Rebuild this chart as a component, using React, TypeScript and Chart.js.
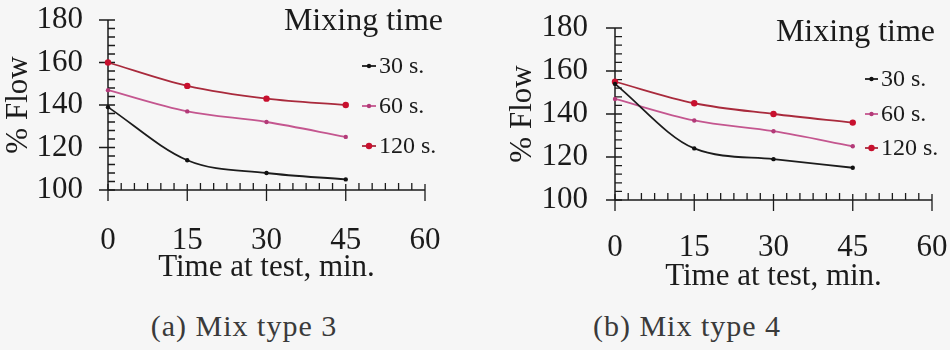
import React, { useEffect, useRef } from "react";
import { Chart, registerables } from "chart.js";

Chart.register(...registerables);

// ---- data ----
const timeAtTest = [0, 15, 30, 45];
const mixingTimeLabels = ["30 s.", "60 s.", "120 s."];
const mix3Flow30s = [139, 114, 108, 105];
const mix3Flow60s = [147, 137, 132, 125];
const mix3Flow120s = [160, 149, 143, 140];
const mix4Flow30s = [154, 124, 119, 115];
const mix4Flow60s = [147, 137, 132, 125];
const mix4Flow120s = [155, 145, 140, 136];
const xTickValues = [0, 15, 30, 45, 60];
const yTickValues = [100, 120, 140, 160, 180];
const xMinorStep = 2.5;
const yMinorStep = 4;
const xAxisTitle = "Time at test, min.";
const yAxisTitle = "% Flow";
const legendTitle = "Mixing time";
const captions = ["(a) Mix type 3", "(b) Mix type 4"];

// ---- styles ----
const FONT = '"Liberation Serif", "Times New Roman", Times, serif';
const INK = "#1b1b1b";
const seriesStyles = [
  { line: "#1c1c1c", point: "#111111", radius: 2.2 },
  { line: "#c4568f", point: "#b33a78", radius: 2.2 },
  { line: "#a92a3c", point: "#c8102e", radius: 3.2 },
];

type Layout = {
  left: number;
  top: number;
  padLeft: number;
  padRight: number;
  padTop: number;
  padBottom: number;
  yWidth: number;
  xHeight: number;
  xTickPad: number;
  yTickPad: number;
  legTitleRight: number;
  legTitleY: number;
  legLineX0: number;
  legLineX1: number;
  legTextX: number;
  legItemYs: number[];
};

const layoutA: Layout = {
  left: 0,
  top: 0,
  padLeft: 0,
  padRight: 45,
  padTop: 20,
  padBottom: 14,
  yWidth: 108,
  xHeight: 96,
  xTickPad: 32,
  yTickPad: 25,
  legTitleRight: 443,
  legTitleY: 22,
  legLineX0: 362,
  legLineX1: 376,
  legTextX: 379,
  legItemYs: [66, 106, 146],
};

const layoutB: Layout = {
  left: 480,
  top: 0,
  padLeft: 24,
  padRight: 18,
  padTop: 28,
  padBottom: 5,
  yWidth: 111,
  xHeight: 95,
  xTickPad: 29,
  yTickPad: 27,
  legTitleRight: 455,
  legTitleY: 33,
  legLineX0: 385,
  legLineX1: 398,
  legTextX: 401,
  legItemYs: [79, 114, 148],
};

function makeAxesPlugin() {
  return {
    id: "paperAxes",
    beforeDatasetsDraw(chart: any) {
      const { ctx } = chart;
      const xs = chart.scales.x;
      const ys = chart.scales.y;
      const xMin = xTickValues[0];
      const xMax = xTickValues[xTickValues.length - 1];
      const yMin = yTickValues[0];
      const yMax = yTickValues[yTickValues.length - 1];
      const x0 = xs.getPixelForValue(xMin);
      const x1 = xs.getPixelForValue(xMax);
      const y0 = ys.getPixelForValue(yMin);
      const y1 = ys.getPixelForValue(yMax);
      ctx.save();
      ctx.strokeStyle = INK;
      ctx.lineWidth = 1.5;
      ctx.beginPath();
      ctx.moveTo(x0, y0);
      ctx.lineTo(x1, y0);
      ctx.moveTo(x0, y0);
      ctx.lineTo(x0, y1);
      ctx.stroke();
      ctx.lineWidth = 1.3;
      ctx.beginPath();
      const nx = Math.round((xMax - xMin) / xMinorStep);
      for (let i = 0; i <= nx; i++) {
        const v = xMin + i * xMinorStep;
        const px = xs.getPixelForValue(v);
        if (xTickValues.includes(v)) {
          ctx.moveTo(px, y0 - 6);
          ctx.lineTo(px, y0 + 11);
        } else {
          ctx.moveTo(px, y0 - 7);
          ctx.lineTo(px, y0);
        }
      }
      const ny = Math.round((yMax - yMin) / yMinorStep);
      for (let i = 0; i <= ny; i++) {
        const v = yMin + i * yMinorStep;
        const py = ys.getPixelForValue(v);
        if (yTickValues.includes(v)) {
          ctx.moveTo(x0 - 9, py);
          ctx.lineTo(x0 + 7, py);
        } else {
          ctx.moveTo(x0, py);
          ctx.lineTo(x0 + 7, py);
        }
      }
      ctx.stroke();
      ctx.restore();
    },
  };
}

function makeLegendPlugin(L: Layout) {
  return {
    id: "paperLegend",
    afterDraw(chart: any) {
      const { ctx } = chart;
      ctx.save();
      ctx.fillStyle = INK;
      ctx.font = `32px ${FONT}`;
      ctx.textAlign = "right";
      ctx.textBaseline = "middle";
      ctx.fillText(legendTitle, L.legTitleRight, L.legTitleY);
      ctx.font = `24px ${FONT}`;
      ctx.textAlign = "left";
      chart.data.datasets.forEach((ds: any, i: number) => {
        const y = L.legItemYs[i];
        ctx.strokeStyle = ds.borderColor;
        ctx.lineWidth = 1.8;
        ctx.beginPath();
        ctx.moveTo(L.legLineX0, y);
        ctx.lineTo(L.legLineX1, y);
        ctx.stroke();
        ctx.fillStyle = ds.pointBackgroundColor;
        ctx.beginPath();
        ctx.arc((L.legLineX0 + L.legLineX1) / 2, y, ds.pointRadius, 0, Math.PI * 2);
        ctx.fill();
        ctx.fillStyle = INK;
        ctx.fillText(ds.label, L.legTextX, y + 1);
      });
      ctx.restore();
    },
  };
}

function Panel({ series, layout }: { series: number[][]; layout: Layout }) {
  const ref = useRef<HTMLCanvasElement | null>(null);
  useEffect(() => {
    if (!ref.current) return;
    const L = layout;
    const font = { family: FONT, size: 31 };
    const chart = new Chart(ref.current, {
      type: "line",
      data: {
        datasets: series.map((vals, i) => ({
          label: mixingTimeLabels[i],
          data: timeAtTest.map((t, j) => ({ x: t, y: vals[j] })),
          borderColor: seriesStyles[i].line,
          backgroundColor: seriesStyles[i].point,
          pointBackgroundColor: seriesStyles[i].point,
          pointBorderWidth: 0,
          pointRadius: seriesStyles[i].radius,
          borderWidth: 1.8,
          cubicInterpolationMode: "monotone",
          clip: false,
          fill: false,
        })),
      },
      options: {
        animation: false,
        responsive: true,
        maintainAspectRatio: false,
        events: [],
        layout: {
          autoPadding: false,
          padding: { left: L.padLeft, right: L.padRight, top: L.padTop, bottom: L.padBottom },
        },
        plugins: {
          legend: { display: false },
          tooltip: { enabled: false },
          title: { display: false },
        },
        scales: {
          x: {
            type: "linear",
            min: xTickValues[0],
            max: xTickValues[xTickValues.length - 1],
            afterBuildTicks: (s: any) => {
              s.ticks = xTickValues.map((v) => ({ value: v }));
            },
            afterFit: (s: any) => {
              s.height = L.xHeight;
              s.paddingLeft = 0;
              s.paddingRight = 0;
              s.paddingTop = 0;
              s.paddingBottom = 0;
            },
            grid: { display: false, drawTicks: false },
            border: { display: false },
            ticks: { padding: L.xTickPad, font, color: INK, maxRotation: 0, autoSkip: false },
            title: { display: true, text: xAxisTitle, font, color: INK, padding: 0 },
          },
          y: {
            type: "linear",
            min: yTickValues[0],
            max: yTickValues[yTickValues.length - 1],
            afterBuildTicks: (s: any) => {
              s.ticks = yTickValues.map((v) => ({ value: v }));
            },
            afterFit: (s: any) => {
              s.width = L.yWidth;
              s.paddingLeft = 0;
              s.paddingRight = 0;
              s.paddingTop = 0;
              s.paddingBottom = 0;
            },
            grid: { display: false, drawTicks: false },
            border: { display: false },
            ticks: { padding: L.yTickPad, font, color: INK, autoSkip: false },
            title: { display: true, text: yAxisTitle, font, color: INK, padding: 0 },
          },
        },
      },
      plugins: [makeAxesPlugin(), makeLegendPlugin(L)],
    } as any);
    return () => chart.destroy();
  }, [series, layout]);

  return (
    <div
      style={{
        position: "absolute",
        left: layout.left,
        top: layout.top,
        width: 470,
        height: 300,
      }}
    >
      <canvas ref={ref} />
    </div>
  );
}

const seriesA = [mix3Flow30s, mix3Flow60s, mix3Flow120s];
const seriesB = [mix4Flow30s, mix4Flow60s, mix4Flow120s];

export default function App() {
  const captionStyle = (cx: number): React.CSSProperties => ({
    position: "absolute",
    left: cx,
    top: 326,
    transform: "translate(-50%, -50%)",
    fontFamily: FONT,
    fontSize: 30,
    letterSpacing: 1,
    color: "#3a3a3a",
    whiteSpace: "nowrap",
    lineHeight: 1,
  });
  return (
    <div
      style={{
        position: "absolute",
        left: 0,
        top: 0,
        width: 950,
        height: 350,
        background: "#f6f6f6",
        overflow: "hidden",
      }}
    >
      <Panel series={seriesA} layout={layoutA} />
      <Panel series={seriesB} layout={layoutB} />
      <div style={captionStyle(244)}>{captions[0]}</div>
      <div style={captionStyle(687)}>{captions[1]}</div>
    </div>
  );
}
